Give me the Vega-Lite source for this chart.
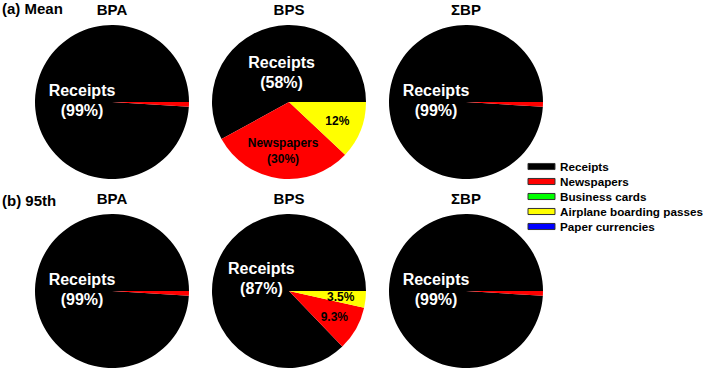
{
  "$schema": "https://vega.github.io/schema/vega-lite/v6.json",
  "padding": {"left": 2, "top": 2, "right": 0, "bottom": 0},
  "background": "white",
  "datasets": {
    "pies": [
      {"stat": "Mean", "compound": "BPA", "category": "Receipts", "pct": 99, "label": "Receipts\n(99%)"},
      {"stat": "Mean", "compound": "BPA", "category": "Newspapers", "pct": 1, "label": ""},
      {"stat": "Mean", "compound": "BPS", "category": "Receipts", "pct": 58, "label": "Receipts\n(58%)"},
      {"stat": "Mean", "compound": "BPS", "category": "Newspapers", "pct": 30, "label": "Newspapers\n(30%)"},
      {"stat": "Mean", "compound": "BPS", "category": "Airplane boarding passes", "pct": 12, "label": "12%"},
      {"stat": "Mean", "compound": "ΣBP", "category": "Receipts", "pct": 99, "label": "Receipts\n(99%)"},
      {"stat": "Mean", "compound": "ΣBP", "category": "Newspapers", "pct": 1, "label": ""},
      {"stat": "95th", "compound": "BPA", "category": "Receipts", "pct": 99, "label": "Receipts\n(99%)"},
      {"stat": "95th", "compound": "BPA", "category": "Newspapers", "pct": 1, "label": ""},
      {"stat": "95th", "compound": "BPS", "category": "Receipts", "pct": 87, "label": "Receipts\n(87%)"},
      {"stat": "95th", "compound": "BPS", "category": "Newspapers", "pct": 9.3, "label": "9.3%"},
      {"stat": "95th", "compound": "BPS", "category": "Airplane boarding passes", "pct": 3.5, "label": "3.5%"},
      {"stat": "95th", "compound": "ΣBP", "category": "Receipts", "pct": 99, "label": "Receipts\n(99%)"},
      {"stat": "95th", "compound": "ΣBP", "category": "Newspapers", "pct": 1, "label": ""}
    ]
  },
  "data": {"name": "pies"},
  "config": {
    "view": {"stroke": null},
    "title": {"font": "Liberation Sans", "fontSize": 15, "fontWeight": "bold", "color": "black", "anchor": "start"},
    "header": {"labelFont": "Liberation Sans", "labelFontSize": 15, "labelFontWeight": "bold", "labelColor": "black"}
  },
  "spacing": 13,
  "vconcat": [
    {
      "title": {"text": "(a) Mean", "offset": -14, "dx": -33},
      "transform": [{"filter": "datum.stat === 'Mean'"}],
      "facet": {"column": {"field": "compound", "type": "nominal", "sort": ["BPA", "BPS", "ΣBP"], "header": {"title": null, "labelPadding": 7}}},
      "spacing": 23,
      "spec": {
        "width": 154, "height": 154,
        "encoding": {
          "theta": {"field": "pct", "type": "quantitative", "stack": "normalize", "scale": {"range": [1.5708, 7.854]}}
        },
        "layer": [
          {"mark": {"type": "arc"},
           "encoding": {"color": {"field": "category", "type": "nominal",
             "scale": {"domain": ["Receipts", "Newspapers", "Business cards", "Airplane boarding passes", "Paper currencies"], "range": ["#000000", "#ff0000", "#00ff00", "#ffff00", "#0000ff"]},
             "legend": {"title": null, "orient": "none", "legendX": 499, "legendY": 134, "symbolType": "M-2,-0.45H2V0.45H-2Z", "symbolSize": 182, "symbolStrokeColor": "#333", "symbolStrokeWidth": 1, "labelOffset": 11, "labelFont": "Liberation Sans", "labelFontSize": 11.7, "labelFontWeight": "bold", "labelColor": "black", "rowPadding": 0}}}},
          {"mark": {"type": "text", "radius": 30, "font": "Liberation Sans", "fontSize": 16, "fontWeight": "bold", "fill": "white", "lineBreak": "\n", "lineHeight": 20, "dy": -10},
           "encoding": {"detail": {"field": "category"}, "text": {"condition": {"test": "datum.category === 'Receipts'", "field": "label", "type": "nominal"}, "value": ""}}},
          {"mark": {"type": "text", "radius": 52, "font": "Liberation Sans", "fontSize": 12, "fontWeight": "bold", "fill": "black"},
           "encoding": {"detail": {"field": "category"}, "text": {"condition": {"test": "datum.category !== 'Receipts' && indexof(datum.label, '\\n') < 0", "field": "label", "type": "nominal"}, "value": ""}}},
          {"mark": {"type": "text", "radius": 47, "font": "Liberation Sans", "fontSize": 12, "fontWeight": "bold", "fill": "black", "lineBreak": "\n", "lineHeight": 16, "dy": -6},
           "encoding": {"detail": {"field": "category"}, "text": {"condition": {"test": "datum.category !== 'Receipts' && indexof(datum.label, '\\n') >= 0", "field": "label", "type": "nominal"}, "value": ""}}}
        ]
      }
    },
    {
      "title": {"text": "(b) 95th", "offset": -17, "dx": -33},
      "transform": [{"filter": "datum.stat === '95th'"}],
      "facet": {"column": {"field": "compound", "type": "nominal", "sort": ["BPA", "BPS", "ΣBP"], "header": {"title": null, "labelPadding": 7}}},
      "spacing": 23,
      "spec": {
        "width": 154, "height": 154,
        "encoding": {
          "theta": {"field": "pct", "type": "quantitative", "stack": "normalize", "scale": {"range": [1.5708, 7.854]}}
        },
        "layer": [
          {"mark": {"type": "arc"},
           "encoding": {"color": {"field": "category", "type": "nominal",
             "scale": {"domain": ["Receipts", "Newspapers", "Business cards", "Airplane boarding passes", "Paper currencies"], "range": ["#000000", "#ff0000", "#00ff00", "#ffff00", "#0000ff"]}}}},
          {"mark": {"type": "text", "radius": 30, "font": "Liberation Sans", "fontSize": 16, "fontWeight": "bold", "fill": "white", "lineBreak": "\n", "lineHeight": 20, "dy": -10},
           "encoding": {"detail": {"field": "category"}, "text": {"condition": {"test": "datum.category === 'Receipts'", "field": "label", "type": "nominal"}, "value": ""}}},
          {"mark": {"type": "text", "radius": 52, "font": "Liberation Sans", "fontSize": 12, "fontWeight": "bold", "fill": "black"},
           "encoding": {"detail": {"field": "category"}, "text": {"condition": {"test": "datum.category !== 'Receipts' && indexof(datum.label, '\\n') < 0", "field": "label", "type": "nominal"}, "value": ""}}},
          {"mark": {"type": "text", "radius": 47, "font": "Liberation Sans", "fontSize": 12, "fontWeight": "bold", "fill": "black", "lineBreak": "\n", "lineHeight": 16, "dy": -6},
           "encoding": {"detail": {"field": "category"}, "text": {"condition": {"test": "datum.category !== 'Receipts' && indexof(datum.label, '\\n') >= 0", "field": "label", "type": "nominal"}, "value": ""}}}
        ]
      }
    }
  ]
}
